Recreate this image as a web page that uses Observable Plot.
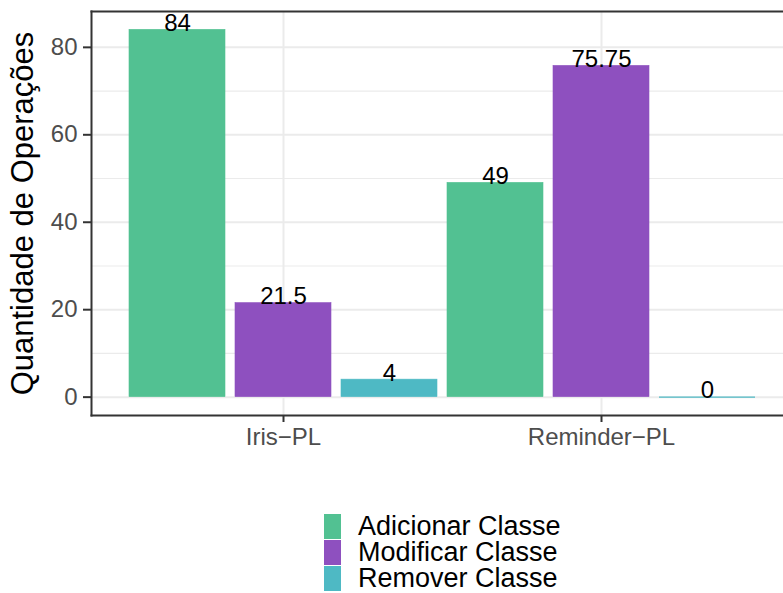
<!DOCTYPE html>
<html>
<head>
<meta charset="utf-8">
<script src="https://cdn.jsdelivr.net/npm/d3@7"></script>
<script src="https://cdn.jsdelivr.net/npm/@observablehq/plot@0.6"></script>
<style>
  html, body { margin: 0; padding: 0; background: #fff; }
  #wrap { position: relative; width: 783px; height: 593px; font-family: "Liberation Sans", Arial, sans-serif; }
  #legend { position: absolute; left: 324px; top: 513px; }
  .item { display: flex; align-items: center; height: 26px; }
  .key { width: 17px; height: 25px; margin-right: 17px; }
  .lab { font-size: 27px; color: #000; line-height: 26px; white-space: nowrap; }
</style>
</head>
<body>
<div id="wrap"><div id="chart"></div><div id="legend"></div></div>
<script>
const groups = ["Iris\u2212PL", "Reminder\u2212PL"];
const types = ["Adicionar Classe", "Modificar Classe", "Remover Classe"];
const irisValues = [84, 21.5, 4];
const reminderValues = [49, 75.75, 0];
const colors = ["#52C192", "#8E50BF", "#4EB9C4"];
const yTicks = [0, 20, 40, 60, 80];
const yMinorTicks = [10, 30, 50, 70];
const yTitle = "Quantidade de Operações";

const seriesByGroup = [irisValues, reminderValues];
const data = [];
groups.forEach((g, gi) => types.forEach((t, ti) => {
  data.push({group: g, type: t, key: g + "|" + t, value: seriesByGroup[gi][ti]});
}));
const keys = data.map(d => d.key);
const middleKeys = groups.map(g => g + "|" + types[1]);

const plot = Plot.plot({
  width: 783,
  height: 470,
  marginLeft: 91,
  marginRight: 0,
  marginTop: 11,
  marginBottom: 55,
  style: {fontFamily: "'Liberation Sans', Arial, sans-serif", background: "#fff"},
  x: {type: "band", domain: keys, range: [128, 756.5], paddingInner: 0.0986, paddingOuter: 0, axis: null},
  y: {domain: [-4.2, 88.2], axis: null},
  color: {domain: types, range: colors},
  marks: [
    Plot.ruleY(yMinorTicks, {stroke: "#EBEBEB", strokeWidth: 1.1}),
    Plot.ruleY(yTicks, {stroke: "#EBEBEB", strokeWidth: 2}),
    Plot.ruleX(middleKeys, {x: d => d, stroke: "#EBEBEB", strokeWidth: 2}),
    Plot.barY(data, {x: "key", y: "value", fill: "type", stroke: "type", strokeWidth: 0.6}),
    Plot.tickY(data.filter(d => d.value === 0), {x: "key", y: "value", stroke: "type", strokeWidth: 1.2}),
    Plot.text(data, {x: "key", y: "value", text: d => String(d.value), lineAnchor: "bottom", dy: 1, fontSize: 24, fill: "#000"}),
    Plot.axisY(yTicks, {tickSize: 8, tickPadding: 6, fontSize: 24, stroke: "#333", fill: "#4D4D4D", strokeWidth: 2, label: null}),
    Plot.axisX(middleKeys, {tickSize: 7, tickPadding: 5, fontSize: 24, stroke: "#333", fill: "#4D4D4D", strokeWidth: 2, label: null, tickFormat: k => k.split("|")[0]}),
    Plot.text([yTitle], {frameAnchor: "left", textAnchor: "middle", dx: -68, rotate: -90, fontSize: 31, fill: "#000"}),
    Plot.frame({anchor: "left", stroke: "#333", strokeWidth: 2}),
    Plot.frame({anchor: "top", stroke: "#333", strokeWidth: 2}),
    Plot.frame({anchor: "bottom", stroke: "#333", strokeWidth: 2})
  ]
});
document.getElementById("chart").appendChild(plot);

const legend = document.getElementById("legend");
types.forEach((t, i) => {
  const item = document.createElement("div");
  item.className = "item";
  const key = document.createElement("div");
  key.className = "key";
  key.style.background = colors[i];
  const lab = document.createElement("span");
  lab.className = "lab";
  lab.textContent = t;
  item.appendChild(key);
  item.appendChild(lab);
  legend.appendChild(item);
});
</script>
</body>
</html>
